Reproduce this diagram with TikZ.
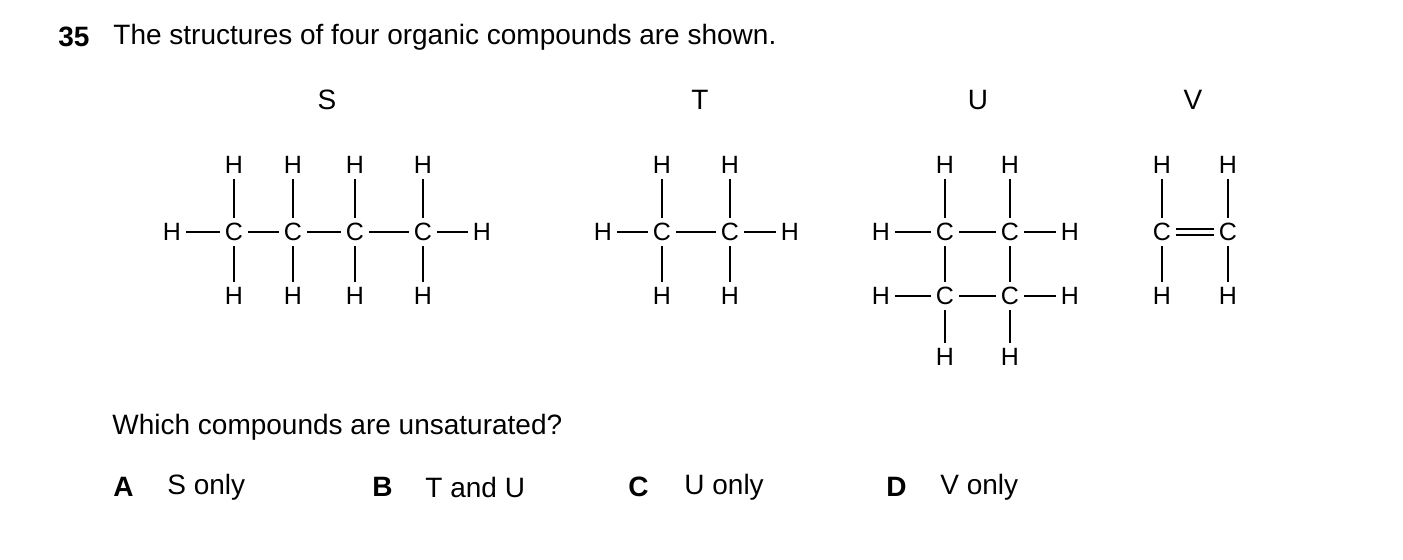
\documentclass[tikz,border=0pt]{standalone}
\usepackage{fontspec}
\setmainfont{Liberation Sans}
\usetikzlibrary{positioning}
\tikzset{
  atom/.style={inner sep=1.5pt, font=\fontsize{12.5}{14}\selectfont},
  txt/.style={anchor=west, inner sep=0pt, font=\fontsize{14}{16}\selectfont},
  lbl/.style={inner sep=0pt, font=\fontsize{14}{16}\selectfont},
  bond/.style={line width=1pt, shorten <=1pt, shorten >=1pt}
}
\begin{document}
\begin{tikzpicture}[x=0.5pt, y=-0.5pt]
  \useasboundingbox (0,0) rectangle (1403,559);
  \node[txt, font=\fontsize{14}{16}\selectfont\bfseries] (num) at (58,37) {35};
  \node[txt] (title) at (113,37) {The structures of four organic compounds are shown.};
  \node[lbl] (labS) at (327,100) {S};
  \node[lbl] (labT) at (700,100) {T};
  \node[lbl] (labU) at (978,100) {U};
  \node[lbl] (labV) at (1193,100) {V};

  % S
  \foreach \i/\x in {1/234, 2/293, 3/355, 4/423} {
    \node[atom] (sc\i) at (\x,232) {C};
    \node[atom] (sht\i) at (\x,165) {H};
    \node[atom] (shb\i) at (\x,296) {H};
    \draw[bond] (sc\i) -- (sht\i);
    \draw[bond] (sc\i) -- (shb\i);
  }
  \node[atom] (shl) at (172,232) {H};
  \node[atom] (shr) at (482,232) {H};
  \draw[bond] (shl) -- (sc1);
  \draw[bond] (sc1) -- (sc2);
  \draw[bond] (sc2) -- (sc3);
  \draw[bond] (sc3) -- (sc4);
  \draw[bond] (sc4) -- (shr);

  % T
  \foreach \i/\x in {1/662, 2/730} {
    \node[atom] (tc\i) at (\x,232) {C};
    \node[atom] (tht\i) at (\x,165) {H};
    \node[atom] (thb\i) at (\x,296) {H};
    \draw[bond] (tc\i) -- (tht\i);
    \draw[bond] (tc\i) -- (thb\i);
  }
  \node[atom] (thl) at (603,232) {H};
  \node[atom] (thr) at (790,232) {H};
  \draw[bond] (thl) -- (tc1);
  \draw[bond] (tc1) -- (tc2);
  \draw[bond] (tc2) -- (thr);

  % U
  \foreach \i/\x in {1/945, 2/1010} {
    \node[atom] (uc\i) at (\x,232) {C};
    \node[atom] (ud\i) at (\x,296) {C};
    \node[atom] (uht\i) at (\x,165) {H};
    \node[atom] (uhb\i) at (\x,357) {H};
    \draw[bond] (uc\i) -- (uht\i);
    \draw[bond] (uc\i) -- (ud\i);
    \draw[bond] (ud\i) -- (uhb\i);
  }
  \node[atom] (uhl1) at (881,232) {H};
  \node[atom] (uhr1) at (1070,232) {H};
  \node[atom] (uhl2) at (881,296) {H};
  \node[atom] (uhr2) at (1070,296) {H};
  \draw[bond] (uhl1) -- (uc1);
  \draw[bond] (uc1) -- (uc2);
  \draw[bond] (uc2) -- (uhr1);
  \draw[bond] (uhl2) -- (ud1);
  \draw[bond] (ud1) -- (ud2);
  \draw[bond] (ud2) -- (uhr2);

  % V
  \foreach \i/\x in {1/1162, 2/1228} {
    \node[atom] (vc\i) at (\x,232) {C};
    \node[atom] (vht\i) at (\x,165) {H};
    \node[atom] (vhb\i) at (\x,296) {H};
    \draw[bond] (vc\i) -- (vht\i);
    \draw[bond] (vc\i) -- (vhb\i);
  }
  \draw[bond, double, double distance=2pt] (vc1) -- (vc2);

  \node[txt] (quest) at (112,427) {Which compounds are unsaturated?};
  \node[txt, font=\fontsize{14}{16}\selectfont\bfseries] (optA) at (113,487) {A};
  \node[txt] (ansA) at (167,487) {S only};
  \node[txt, font=\fontsize{14}{16}\selectfont\bfseries] (optB) at (372,487) {B};
  \node[txt] (ansB) at (425,487) {T and U};
  \node[txt, font=\fontsize{14}{16}\selectfont\bfseries] (optC) at (628,487) {C};
  \node[txt] (ansC) at (684,487) {U only};
  \node[txt, font=\fontsize{14}{16}\selectfont\bfseries] (optD) at (886,487) {D};
  \node[txt] (ansD) at (940,487) {V only};
\end{tikzpicture}
\end{document}
